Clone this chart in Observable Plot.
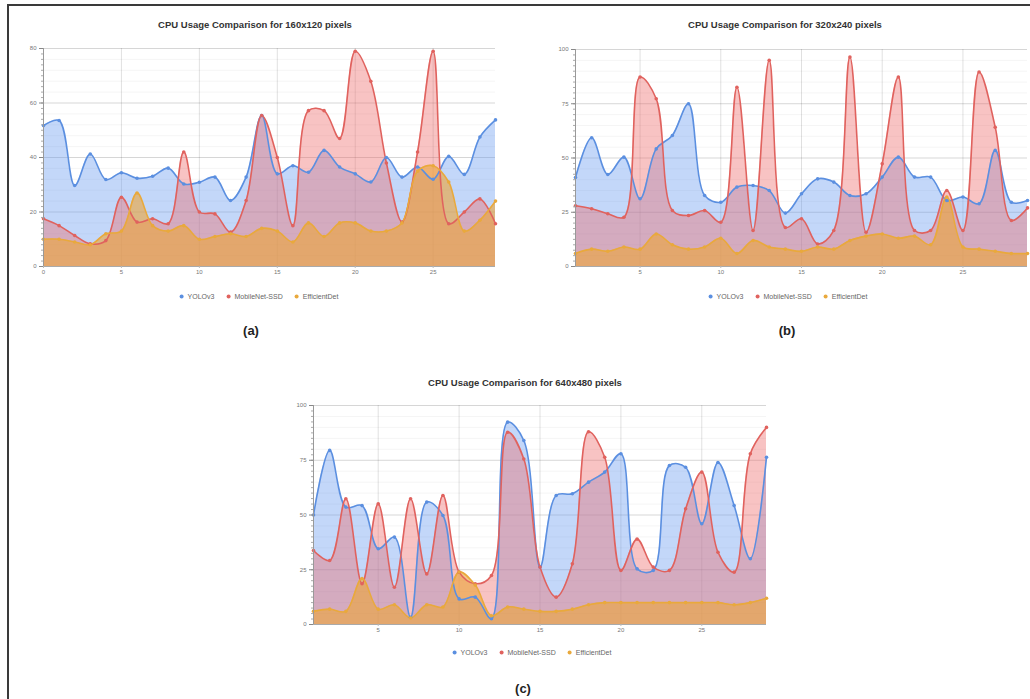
<!DOCTYPE html>
<html>
<head>
<meta charset="utf-8">
<script src="https://cdn.jsdelivr.net/npm/d3@7"></script>
<script src="https://cdn.jsdelivr.net/npm/@observablehq/plot@0.6"></script>
<style>
  body { margin: 0; background: #fff; font-family: "Liberation Sans", Arial, sans-serif; }
  #fig { position: relative; width: 1030px; height: 699px; overflow: hidden; background: #fff; }
  .border { position: absolute; left: 7px; top: 4px; width: 1100px; height: 800px;
            border-left: 2px solid #3a3a3a; border-top: 2px solid #3a3a3a; }
  .title { position: absolute; font-weight: bold; font-size: 9.5px; color: #333;
           transform: translate(-50%, -50%); white-space: nowrap; }
  .legend { position: absolute; font-size: 7px; color: #666; transform: translate(-50%, -50%);
            white-space: nowrap; display: flex; gap: 12px; align-items: center; }
  .legend span.sw { display: inline-block; width: 4px; height: 4px; border-radius: 50%; margin-right: 4px; vertical-align: middle; }
  .panel { position: absolute; }
  .lab { position: absolute; font-weight: bold; font-size: 13px; color: #222;
         transform: translate(-50%, -50%); }
</style>
</head>
<body>
<div id="fig"><div class="border"></div></div>
<script>
// ---------- data ----------
const seriesNames = ["YOLOv3", "MobileNet-SSD", "EfficientDet"];

// (a) 160x120 pixels
const xA = [0,1,2,3,4,5,6,7,8,9,10,11,12,13,14,15,16,17,18,19,20,21,22,23,24,25,26,27,28,29];
const yoloA = [51.7,53.6,29.7,41.3,31.9,34.4,32.4,33.1,36.1,30.3,30.9,32.8,24.2,32.8,55.4,34,37,34.6,42.6,36.5,34,31,40,32.8,36.5,32,40.4,33.8,47.5,53.8];
const ssdA  = [17.5,15,11.4,8.3,9.5,25.4,16.3,17.5,15.7,42,20,19.3,12.6,24.2,55.4,40,15,57.2,57.2,47,79,68,38,16.3,42,79,15.7,20,24.8,15.7];
const effA  = [10,10,9,8,12,13,27,15,13,15,10,11,12,11,14,13,9,16,11,16,16,13,13,16,35,37,31,13,17,24];

// (b) 320x240 pixels
const xB = [1,2,3,4,5,6,7,8,9,10,11,12,13,14,15,16,17,18,19,20,21,22,23,24,25,26,27,28,29];
const yoloB = [41,59.3,42.4,50.4,31.2,54.2,60.4,75,32.7,29.6,36.6,37.3,35,24.6,33.5,40.4,38.9,32.7,33.5,41.2,50.4,41.2,41.2,30.4,32,28.9,53.5,29.6,30.4];
const ssdB  = [28,26.6,24.3,22.7,87.3,77.3,25.8,23.5,25.8,20.4,82.6,16.6,95,18,22,10.4,16.6,96.5,15.8,47.3,87.3,16.6,16.6,35,16.6,89.6,64.2,21.2,27];
const effB  = [6,8,7,9,8,15,10,8,9,13,6,12,9,8,7,9,8,12,14,15,13,14,10,32,9,8,7,6,6];

// (c) 640x480 pixels
const xC = [1,2,3,4,5,6,7,8,9,10,11,12,13,14,15,16,17,18,19,20,21,22,23,24,25,26,27,28,29];
const yoloC = [50,79.5,53.6,54.3,34.6,39.9,3.3,55.9,49.8,11.7,12.5,2.6,92.4,84,26.2,58.9,59.7,65,69.6,78,25.4,24.7,72.6,71.8,46,74,54.3,30,76.4];
const ssdC  = [33.8,29.2,57.4,18.6,55.1,17,57.4,23.1,58.9,23.9,18.6,22.4,87.8,75.6,26.2,12.5,27.7,88,76.4,24.7,39,26.2,24.7,52.8,69.6,33,23.9,78,90];
const effC  = [6,7,6,21,7,9,3,9,8,24,18,4,8,7,6,6,7,9,10,10,10,10,10,10,10,10,9,10,12];

// tick labels
const xTicksA = [0,5,10,15,20,25];
const xTicksBC = [5,10,15,20,25];
const yTicksA = [0,20,40,60,80];
const yTicksBC = [0,25,50,75,100];

// ---------- styling ----------
const lineColors = ["#5b8fe0", "#e0625e", "#e9a93c"];
const fillColors = ["#6a9cf0", "#ee6a6a", "#eba43a"];
const fillOpac  = [0.40, 0.40, 0.62];

const fig = document.getElementById("fig");

function addDiv(cls, html, left, top) {
  const d = document.createElement("div");
  d.className = cls;
  d.innerHTML = html;
  d.style.left = left + "px";
  d.style.top = top + "px";
  fig.appendChild(d);
  return d;
}

function panel(cfg) {
  const vals = [cfg.yolo, cfg.ssd, cfg.eff];
  const series = seriesNames.map((name, k) =>
    cfg.x.map((xi, i) => ({x: xi, y: vals[k][i], name})));
  const [ymin, ymax] = [cfg.yTicks[0], cfg.yTicks[cfg.yTicks.length - 1]];
  const majorStep = cfg.yTicks[1] - cfg.yTicks[0];
  const minorTicks = d3.range(ymin, ymax + 0.001, majorStep / 5);
  const tinyTicks = d3.range(ymin, ymax + 0.001, majorStep / 10);
  const marks = [
    Plot.gridY(minorTicks, {stroke: "#000", strokeOpacity: 0.045}),
    Plot.gridY(cfg.yTicks, {stroke: "#000", strokeOpacity: 0.12}),
    Plot.gridX(cfg.xTicks, {stroke: "#000", strokeOpacity: 0.12}),
  ];
  series.forEach((s, k) => marks.push(
    Plot.areaY(s, {x: "x", y1: 0, y2: "y", fill: fillColors[k], fillOpacity: fillOpac[k], curve: "catmull-rom"})));
  series.forEach((s, k) => marks.push(
    Plot.lineY(s, {x: "x", y: "y", stroke: lineColors[k], strokeWidth: 1.6, curve: "catmull-rom"})));
  series.forEach((s, k) => marks.push(
    Plot.dot(s, {x: "x", y: "y", fill: lineColors[k], r: 1.8})));
  marks.push(
    Plot.ruleY([ymin], {stroke: "#aaa"}),
    Plot.ruleX([cfg.x[0]], {stroke: "#999"}),
    Plot.axisY(tinyTicks, {tickSize: 2, text: null, stroke: "#aaa", label: null}),
    Plot.axisY(cfg.yTicks, {tickSize: 4, tickPadding: 3, fontSize: 6, fill: "#777", stroke: "#888", label: null}),
    Plot.axisX(cfg.xTicks, {tickSize: 2, tickPadding: 1, fontSize: 6, fill: "#777", stroke: "#bbb", label: null})
  );
  const svg = Plot.plot({
    width: cfg.width, height: cfg.height,
    marginLeft: cfg.ml, marginRight: cfg.mr, marginTop: cfg.mt, marginBottom: cfg.mb,
    x: {domain: [cfg.x[0], cfg.x[cfg.x.length - 1]], label: null},
    y: {domain: [ymin, ymax], label: null},
    style: {fontFamily: "Liberation Sans, Arial, sans-serif", background: "transparent"},
    marks
  });
  const holder = document.createElement("div");
  holder.className = "panel";
  holder.style.left = cfg.left + "px";
  holder.style.top = cfg.top + "px";
  holder.appendChild(svg);
  fig.appendChild(holder);

  addDiv("title", cfg.title, cfg.titleX, cfg.titleY);
  const leg = seriesNames.map((n, k) =>
    `<span><span class="sw" style="background:${lineColors[k]}"></span>${n}</span>`).join("");
  addDiv("legend", leg, cfg.legX, cfg.legY);
  addDiv("lab", cfg.label, cfg.labX, cfg.labY);
}

panel({x: xA, yolo: yoloA, ssd: ssdA, eff: effA, xTicks: xTicksA, yTicks: yTicksA,
  left: 13, top: 40, width: 490, height: 240, ml: 30, mr: 8, mt: 8, mb: 14,
  title: "CPU Usage Comparison for 160x120 pixels", titleX: 255, titleY: 24,
  legX: 259, legY: 296, label: "(a)", labX: 251, labY: 330});

panel({x: xB, yolo: yoloB, ssd: ssdB, eff: effB, xTicks: xTicksBC, yTicks: yTicksBC,
  left: 545, top: 40, width: 485, height: 240, ml: 30, mr: 3, mt: 9, mb: 14,
  title: "CPU Usage Comparison for 320x240 pixels", titleX: 785, titleY: 24,
  legX: 788, legY: 296, label: "(b)", labX: 787, labY: 330});

panel({x: xC, yolo: yoloC, ssd: ssdC, eff: effC, xTicks: xTicksBC, yTicks: yTicksBC,
  left: 283, top: 396, width: 493, height: 242, ml: 30, mr: 10, mt: 9, mb: 14,
  title: "CPU Usage Comparison for 640x480 pixels", titleX: 525, titleY: 382,
  legX: 532, legY: 652, label: "(c)", labX: 523, labY: 688});
</script>
</body>
</html>
